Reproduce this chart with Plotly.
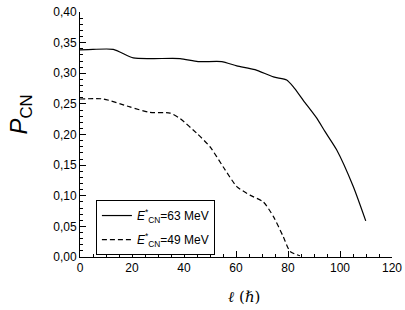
import plotly.graph_objects as go

l63 = [0, 5, 12.8, 20.5, 28, 38.5, 45.4, 54.5, 60.3, 67.3, 74.4, 79.5, 82, 86, 91, 94.2, 98.7, 105.1, 109.9]
p63 = [0.338, 0.339, 0.339, 0.325, 0.324, 0.324, 0.319, 0.319, 0.312, 0.306, 0.294, 0.289, 0.278, 0.255, 0.227, 0.205, 0.175, 0.115, 0.059]

l49 = [0, 9, 19.2, 26.9, 34.6, 38.5, 44.9, 50, 55.1, 60.3, 65.4, 70.5, 74.4, 78.2, 80.8, 84.6]
p49 = [0.258, 0.258, 0.245, 0.236, 0.235, 0.226, 0.202, 0.180, 0.147, 0.115, 0.101, 0.090, 0.066, 0.033, 0.009, 0.002]

fig = go.Figure()
fig.add_trace(go.Scatter(x=l63, y=p63, mode="lines", line=dict(color="black", width=1.2, shape="spline", smoothing=0.6),
                         name="<i>E</i><sup>*</sup><sub>CN</sub>=63 MeV", legendgroup="a"))
fig.add_trace(go.Scatter(x=l49, y=p49, mode="lines", line=dict(color="black", width=1.2, dash="5px,3px", shape="spline", smoothing=0.6),
                         name="<i>E</i><sup>*</sup><sub>CN</sub>=49 MeV", legendgroup="b"))

font = dict(family="Liberation Sans, Arial, sans-serif", size=12, color="black")
fig.update_layout(
    template="none",
    width=405, height=310, margin=dict(l=80, r=13, t=12, b=53, autoexpand=False),
    paper_bgcolor="white", plot_bgcolor="white", font=font, separators=", ",
    showlegend=True,
    legend=dict(x=0.051, y=0.008, xanchor="left", yanchor="bottom", bordercolor="black", borderwidth=1,
                bgcolor="white", font=dict(size=12), itemwidth=30, tracegroupgap=5),
    xaxis=dict(range=[0, 120], tickmode="array", tickvals=[0, 20, 40, 60, 80, 100, 120],
               ticks="inside", ticklen=6, tickcolor="black", tickwidth=1, automargin=False,
               ticklabeloverflow="allow",
               showline=True, linecolor="black", linewidth=1, showgrid=False, zeroline=False,
               minor=dict(dtick=5, tick0=0, ticks="inside", ticklen=3, tickcolor="black", showgrid=False)),
    yaxis=dict(range=[0, 0.40], tickmode="array", tickvals=[0, 0.05, 0.10, 0.15, 0.20, 0.25, 0.30, 0.35, 0.40],
               tickformat=".2f", ticks="inside", ticklen=6, tickcolor="black", tickwidth=1, automargin=False,
               ticklabeloverflow="allow",
               showline=True, linecolor="black", linewidth=1, showgrid=False, zeroline=False,
               minor=dict(dtick=0.01, tick0=0, ticks="inside", ticklen=3, tickcolor="black", showgrid=False)),
)
fig.add_annotation(text="<i>P</i><sub>CN</sub>", textangle=-90, xref="paper", yref="paper",
                   x=-0.19, y=0.58, xanchor="center", yanchor="middle", showarrow=False,
                   font=dict(family="Liberation Sans, Arial, sans-serif", size=24, color="black"))
fig.add_annotation(text="<i>ℓ</i> (<i>ℏ</i>)", xref="paper", yref="paper",
                   x=0.525, y=-0.163, xanchor="center", yanchor="middle", showarrow=False,
                   font=dict(family="DejaVu Serif, serif", size=15, color="black"))
fig.write_html("out.html")
